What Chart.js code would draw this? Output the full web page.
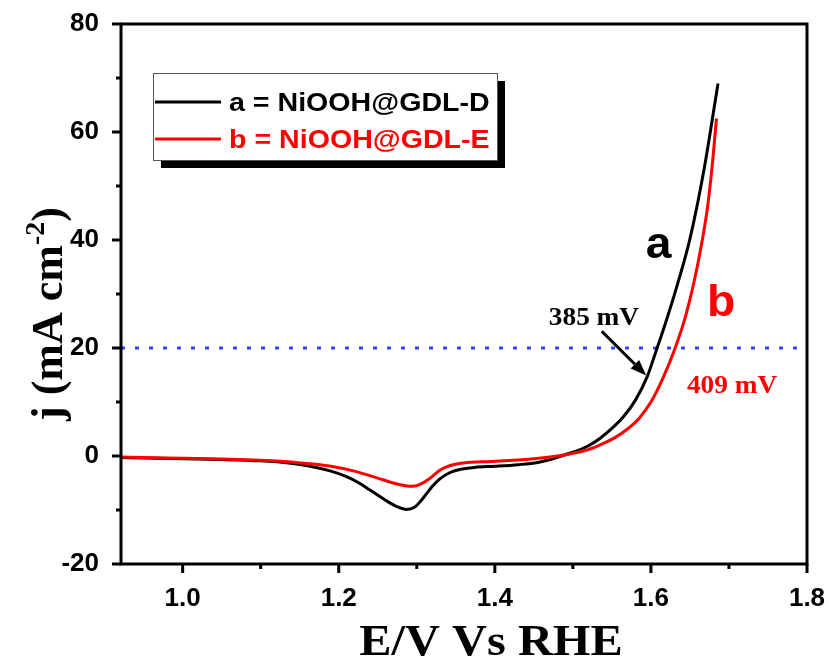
<!DOCTYPE html>
<html>
<head>
<meta charset="utf-8">
<script src="https://cdn.jsdelivr.net/npm/chart.js@4.4.0/dist/chart.umd.min.js"></script>
<style>
  html, body { margin: 0; padding: 0; background: #fff; }
  #wrap { width: 829px; height: 664px; }
</style>
</head>
<body>
<div id="wrap"><canvas id="lsv"></canvas></div>
<script>
// LSV polarisation curves: j (mA cm-2) vs E (V vs RHE)
const potentialD = [0.922, 0.95, 1.00, 1.05, 1.10, 1.13, 1.16, 1.19, 1.21, 1.225, 1.24, 1.26, 1.275, 1.287, 1.297, 1.307, 1.32, 1.33, 1.342, 1.355, 1.375, 1.40, 1.43, 1.455, 1.47, 1.485, 1.50, 1.52, 1.535, 1.55, 1.565, 1.58, 1.595, 1.607, 1.62, 1.632, 1.65, 1.668, 1.686];
const currentD   = [-0.3, -0.35, -0.5, -0.65, -0.9, -1.2, -1.8, -2.8, -3.8, -4.9, -6.3, -8.2, -9.4, -9.9, -9.5, -8.0, -5.6, -4.2, -3.1, -2.5, -2.1, -1.9, -1.6, -1.2, -0.7, 0, 0.7, 1.9, 3.3, 5.1, 7.3, 10.3, 14.6, 19.6, 25.2, 30.8, 40.2, 53, 69];

const potentialE = [0.922, 0.95, 1.00, 1.05, 1.10, 1.13, 1.16, 1.19, 1.22, 1.248, 1.27, 1.285, 1.295, 1.305, 1.318, 1.33, 1.342, 1.36, 1.395, 1.45, 1.485, 1.50, 1.52, 1.54, 1.555, 1.57, 1.585, 1.60, 1.615, 1.63, 1.645, 1.66, 1.672, 1.678, 1.684];
const currentE   = [-0.2, -0.3, -0.4, -0.55, -0.8, -1.0, -1.4, -1.9, -2.8, -4.0, -5.0, -5.5, -5.6, -5.2, -4.0, -2.6, -1.8, -1.3, -1.0, -0.5, 0.1, 0.5, 1.2, 2.4, 3.5, 5.0, 7.0, 10.0, 14.3, 19.6, 26.2, 35.5, 45.5, 53, 62.5];

const seriesNames = ['a = NiOOH@GDL-D', 'b = NiOOH@GDL-E'];
const seriesColors = ['#000000', '#ff0000'];
const refCurrent = 20;            // mA cm-2, dotted guide
const overpotentials = ['385 mV', '409 mV'];

const xRange = [0.921, 1.8];
const yRange = [-20, 80];
const xMajorTicks = [1.0, 1.2, 1.4, 1.6, 1.8];
const xMinorTicks = [1.1, 1.3, 1.5, 1.7];
const yMajorTicks = [-20, 0, 20, 40, 60, 80];
const yMinorTicks = [-10, 10, 30, 50, 70];

const toPoints = (xs, ys) => xs.map((x, i) => ({ x, y: ys[i] }));

// stretched text helper (the figure's type is a bit wide)
function drawText(ctx, str, x, y, font, color, align, sx) {
  ctx.save();
  ctx.translate(x, y);
  ctx.scale(sx || 1, 1);
  ctx.font = font;
  ctx.fillStyle = color;
  ctx.textAlign = align || 'left';
  ctx.textBaseline = 'alphabetic';
  ctx.fillText(str, 0, 0);
  ctx.restore();
}

const decor = {
  id: 'decor',
  afterDraw(chart) {
    const { ctx, chartArea: a, scales: { x, y } } = chart;
    ctx.save();

    // frame + outward ticks
    ctx.strokeStyle = '#000';
    ctx.lineWidth = 3;
    ctx.strokeRect(a.left, a.top, a.right - a.left, a.bottom - a.top);
    ctx.beginPath();
    xMajorTicks.forEach(v => { const p = x.getPixelForValue(v); ctx.moveTo(p, a.bottom); ctx.lineTo(p, a.bottom + 9); });
    xMinorTicks.forEach(v => { const p = x.getPixelForValue(v); ctx.moveTo(p, a.bottom); ctx.lineTo(p, a.bottom + 5); });
    yMajorTicks.forEach(v => { const p = y.getPixelForValue(v); ctx.moveTo(a.left, p); ctx.lineTo(a.left - 9, p); });
    yMinorTicks.forEach(v => { const p = y.getPixelForValue(v); ctx.moveTo(a.left, p); ctx.lineTo(a.left - 5, p); });
    ctx.stroke();

    // legend box with drop shadow
    const lx = 153, ly = 73, lw = 344, lh = 87;
    ctx.fillStyle = '#000';
    ctx.fillRect(lx + 8, ly + 8, lw, lh);
    ctx.fillStyle = '#fff';
    ctx.fillRect(lx, ly, lw, lh);
    ctx.strokeStyle = '#555';
    ctx.lineWidth = 1;
    ctx.strokeRect(lx + 0.5, ly + 0.5, lw, lh);
    seriesNames.forEach((name, i) => {
      const ry = 102 + i * 37;
      ctx.strokeStyle = seriesColors[i];
      ctx.lineWidth = 3;
      ctx.beginPath();
      ctx.moveTo(155, ry);
      ctx.lineTo(221, ry);
      ctx.stroke();
      drawText(ctx, name, 229, ry + 9, 'bold 26px "Liberation Sans", Arial', seriesColors[i], 'left', 1.1);
    });

    // curve labels
    const px = (vx, vy) => [x.getPixelForValue(vx), y.getPixelForValue(vy)];
    let p = px(1.61, 39.3);
    drawText(ctx, 'a', p[0], p[1] + 14, 'bold 44px "Liberation Sans", Arial', '#000', 'center', 1.05);
    p = px(1.69, 28.8);
    drawText(ctx, 'b', p[0], p[1] + 16, 'bold 44px "Liberation Sans", Arial', '#ff0000', 'center', 1.05);
    p = px(1.527, 26.0);
    drawText(ctx, overpotentials[0], p[0], p[1] + 9, 'bold 26px "Liberation Serif", "Times New Roman"', '#000', 'center', 1.05);
    p = px(1.704, 13.4);
    drawText(ctx, overpotentials[1], p[0], p[1] + 9, 'bold 26px "Liberation Serif", "Times New Roman"', '#ff0000', 'center', 1.05);

    // arrow pointing at curve a on the 20 mA cm-2 guide
    const [ax0, ay0] = px(1.537, 23.1);
    const [ax1, ay1] = px(1.594, 14.9);
    const ang = Math.atan2(ay1 - ay0, ax1 - ax0);
    const hl = 16, hw = 6;
    const bx = ax1 - hl * Math.cos(ang), by = ay1 - hl * Math.sin(ang);
    ctx.strokeStyle = '#000';
    ctx.lineWidth = 3;
    ctx.beginPath();
    ctx.moveTo(ax0, ay0);
    ctx.lineTo(bx, by);
    ctx.stroke();
    ctx.fillStyle = '#000';
    ctx.beginPath();
    ctx.moveTo(ax1, ay1);
    ctx.lineTo(bx + hw * Math.sin(ang), by - hw * Math.cos(ang));
    ctx.lineTo(bx - hw * Math.sin(ang), by + hw * Math.cos(ang));
    ctx.closePath();
    ctx.fill();

    // axis titles
    drawText(ctx, 'E/V Vs RHE', 491, 655, 'bold 44px "Liberation Serif", "Times New Roman"', '#000', 'center', 1.1);

    ctx.save();
    ctx.translate(62, 314);
    ctx.rotate(-Math.PI / 2);
    const big = 'bold 44px "Liberation Serif", "Times New Roman"';
    const small = 'bold 28px "Liberation Serif", "Times New Roman"';
    ctx.font = big;
    const w1 = ctx.measureText('j (mA cm').width;
    const w3 = ctx.measureText(')').width;
    ctx.font = small;
    const w2 = ctx.measureText('-2').width;
    const total = w1 + w2 + w3;
    let cx = -total / 2;
    ctx.fillStyle = '#000';
    ctx.textBaseline = 'alphabetic';
    ctx.font = big;
    ctx.fillText('j (mA cm', cx, 0);
    cx += w1;
    ctx.font = small;
    ctx.fillText('-2', cx, -18);
    cx += w2;
    ctx.font = big;
    ctx.fillText(')', cx, 0);
    ctx.restore();

    ctx.restore();
  }
};

const tickFont = { family: '"Liberation Sans", Arial', size: 26, weight: 'bold' };

new Chart(document.getElementById('lsv'), {
  type: 'scatter',
  data: {
    datasets: [
      {
        label: seriesNames[1],
        data: toPoints(potentialE, currentE),
        showLine: true,
        borderColor: seriesColors[1],
        borderWidth: 3,
        pointRadius: 0,
        cubicInterpolationMode: 'monotone',
        order: 1
      },
      {
        label: seriesNames[0],
        data: toPoints(potentialD, currentD),
        showLine: true,
        borderColor: seriesColors[0],
        borderWidth: 3,
        pointRadius: 0,
        cubicInterpolationMode: 'monotone',
        order: 2
      },
      {
        label: 'ref',
        data: toPoints(xRange, [refCurrent, refCurrent]),
        showLine: true,
        borderColor: '#2f45ff',
        borderWidth: 3,
        borderDash: [4, 10],
        pointRadius: 0,
        order: 3
      }
    ]
  },
  options: {
    responsive: true,
    maintainAspectRatio: false,
    animation: false,
    layout: { padding: { left: 0, top: 24, right: 22, bottom: 0 } },
    plugins: {
      legend: { display: false },
      tooltip: { enabled: false }
    },
    scales: {
      x: {
        type: 'linear',
        min: xRange[0],
        max: xRange[1],
        grid: { display: false },
        border: { display: false },
        afterBuildTicks: s => { s.ticks = xMajorTicks.map(v => ({ value: v })); },
        afterFit: s => { s.height = 100; s.paddingLeft = 0; s.paddingRight = 0; },
        ticks: {
          color: '#000',
          font: tickFont,
          padding: 11,
          maxRotation: 0,
          callback: v => v.toFixed(1)
        }
      },
      y: {
        type: 'linear',
        min: yRange[0],
        max: yRange[1],
        grid: { display: false },
        border: { display: false },
        afterBuildTicks: s => { s.ticks = yMajorTicks.map(v => ({ value: v })); },
        afterFit: s => { s.width = 121; s.paddingTop = 0; s.paddingBottom = 0; },
        ticks: {
          color: '#000',
          font: tickFont,
          padding: 14,
          callback: v => String(v)
        }
      }
    }
  },
  plugins: [decor]
});
</script>
</body>
</html>
